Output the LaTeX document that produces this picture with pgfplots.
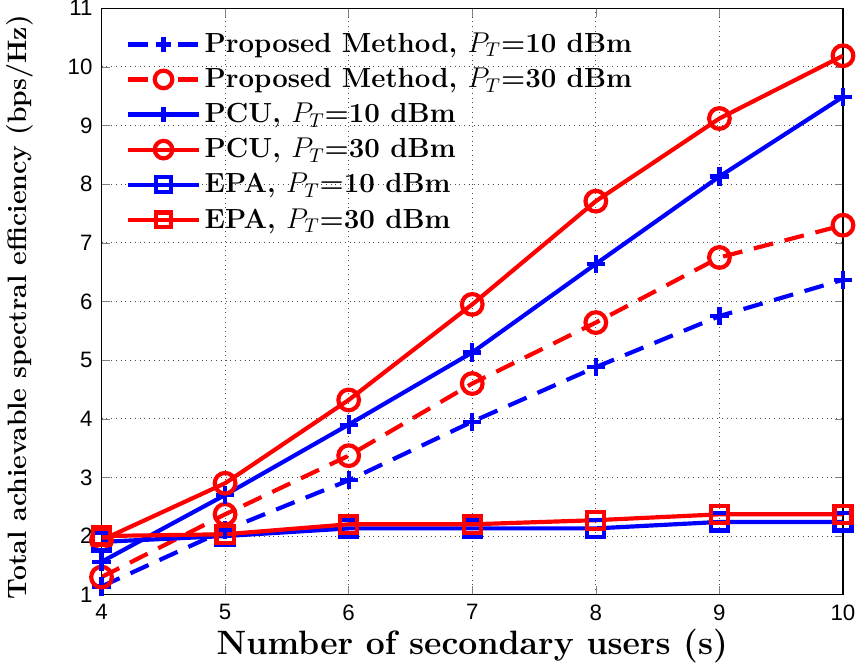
\documentclass[border=0pt]{standalone}
\usepackage{fontspec}
\usepackage{pgfplots}
\pgfplotsset{compat=1.18}
\newfontfamily\arial{Liberation Sans}
\begin{document}
\begin{tikzpicture}
\begin{axis}[
  scale only axis,
  width=373pt, height=295pt,
  xmin=4, xmax=10, ymin=1, ymax=11,
  xtick={4,...,10}, ytick={1,...,11},
  tick align=inside,
  grid=major,
  major grid style={dotted, black!70},
  axis line style={line width=0.6pt},
  /pgf/number format/assume math mode=true,
  tick label style={font=\fontsize{11.2}{13}\selectfont\arial},
  xticklabel style={yshift=-1.5pt},
  yticklabel style={inner ysep=0.3pt, xshift=-1pt},
  xlabel={\bfseries Number of secondary users (s)},
  ylabel={\bfseries Total achievable spectral efficiency (bps/Hz)},
  xlabel style={font=\fontsize{17}{20}\selectfont, at={(axis description cs:0.5,-0.088)}, anchor=center},
  ylabel style={font=\fontsize{13.4}{15}\selectfont, at={(axis description cs:-0.11,0.49)}, anchor=center},
  legend style={draw=none, fill=none, at={(0.033,0.965)}, anchor=north west,
    font=\fontsize{13.9}{16}\selectfont\bfseries, row sep=2.3pt, inner sep=0pt},
  legend cell align=left,
  every axis plot/.append style={line width=2.1pt},
  legend image code/.code={
    \draw[mark repeat=2,mark phase=2,#1,every mark/.append style={scale=0.85}]
      plot coordinates {(0cm,0cm) (0.62cm,0cm) (1.24cm,0cm)};
  },
]
\addplot[blue, dash pattern=on 10pt off 6pt, mark=+, mark size=4.6pt, mark options={solid},
  legend image post style={dash pattern=on 10pt off 15pt}]
  coordinates {(4,1.14) (5,2.1) (6,2.95) (7,3.95) (8,4.88) (9,5.75) (10,6.37)};
\addlegendentry{Proposed Method, $P_T$=10 dBm}
\addplot[red, dash pattern=on 10pt off 6pt, mark=o, mark size=5.2pt, mark options={solid},
  legend image post style={dash pattern=on 10pt off 15pt}]
  coordinates {(4,1.3) (5,2.37) (6,3.37) (7,4.6) (8,5.64) (9,6.75) (10,7.3)};
\addlegendentry{Proposed Method, $P_T$=30 dBm}
\addplot[blue, mark=+, mark size=4.6pt]
  coordinates {(4,1.56) (5,2.7) (6,3.9) (7,5.13) (8,6.64) (9,8.13) (10,9.49)};
\addlegendentry{PCU, $P_T$=10 dBm}
\addplot[red, mark=o, mark size=5.2pt]
  coordinates {(4,1.93) (5,2.9) (6,4.32) (7,5.95) (8,7.71) (9,9.12) (10,10.19)};
\addlegendentry{PCU, $P_T$=30 dBm}
\addplot[blue, mark=square, mark size=4.3pt]
  coordinates {(4,1.9) (5,2.0) (6,2.13) (7,2.13) (8,2.13) (9,2.24) (10,2.24)};
\addlegendentry{EPA, $P_T$=10 dBm}
\addplot[red, mark=square, mark size=4.3pt]
  coordinates {(4,2.0) (5,2.03) (6,2.2) (7,2.2) (8,2.27) (9,2.37) (10,2.37)};
\addlegendentry{EPA, $P_T$=30 dBm}
\end{axis}
\end{tikzpicture}
\end{document}
